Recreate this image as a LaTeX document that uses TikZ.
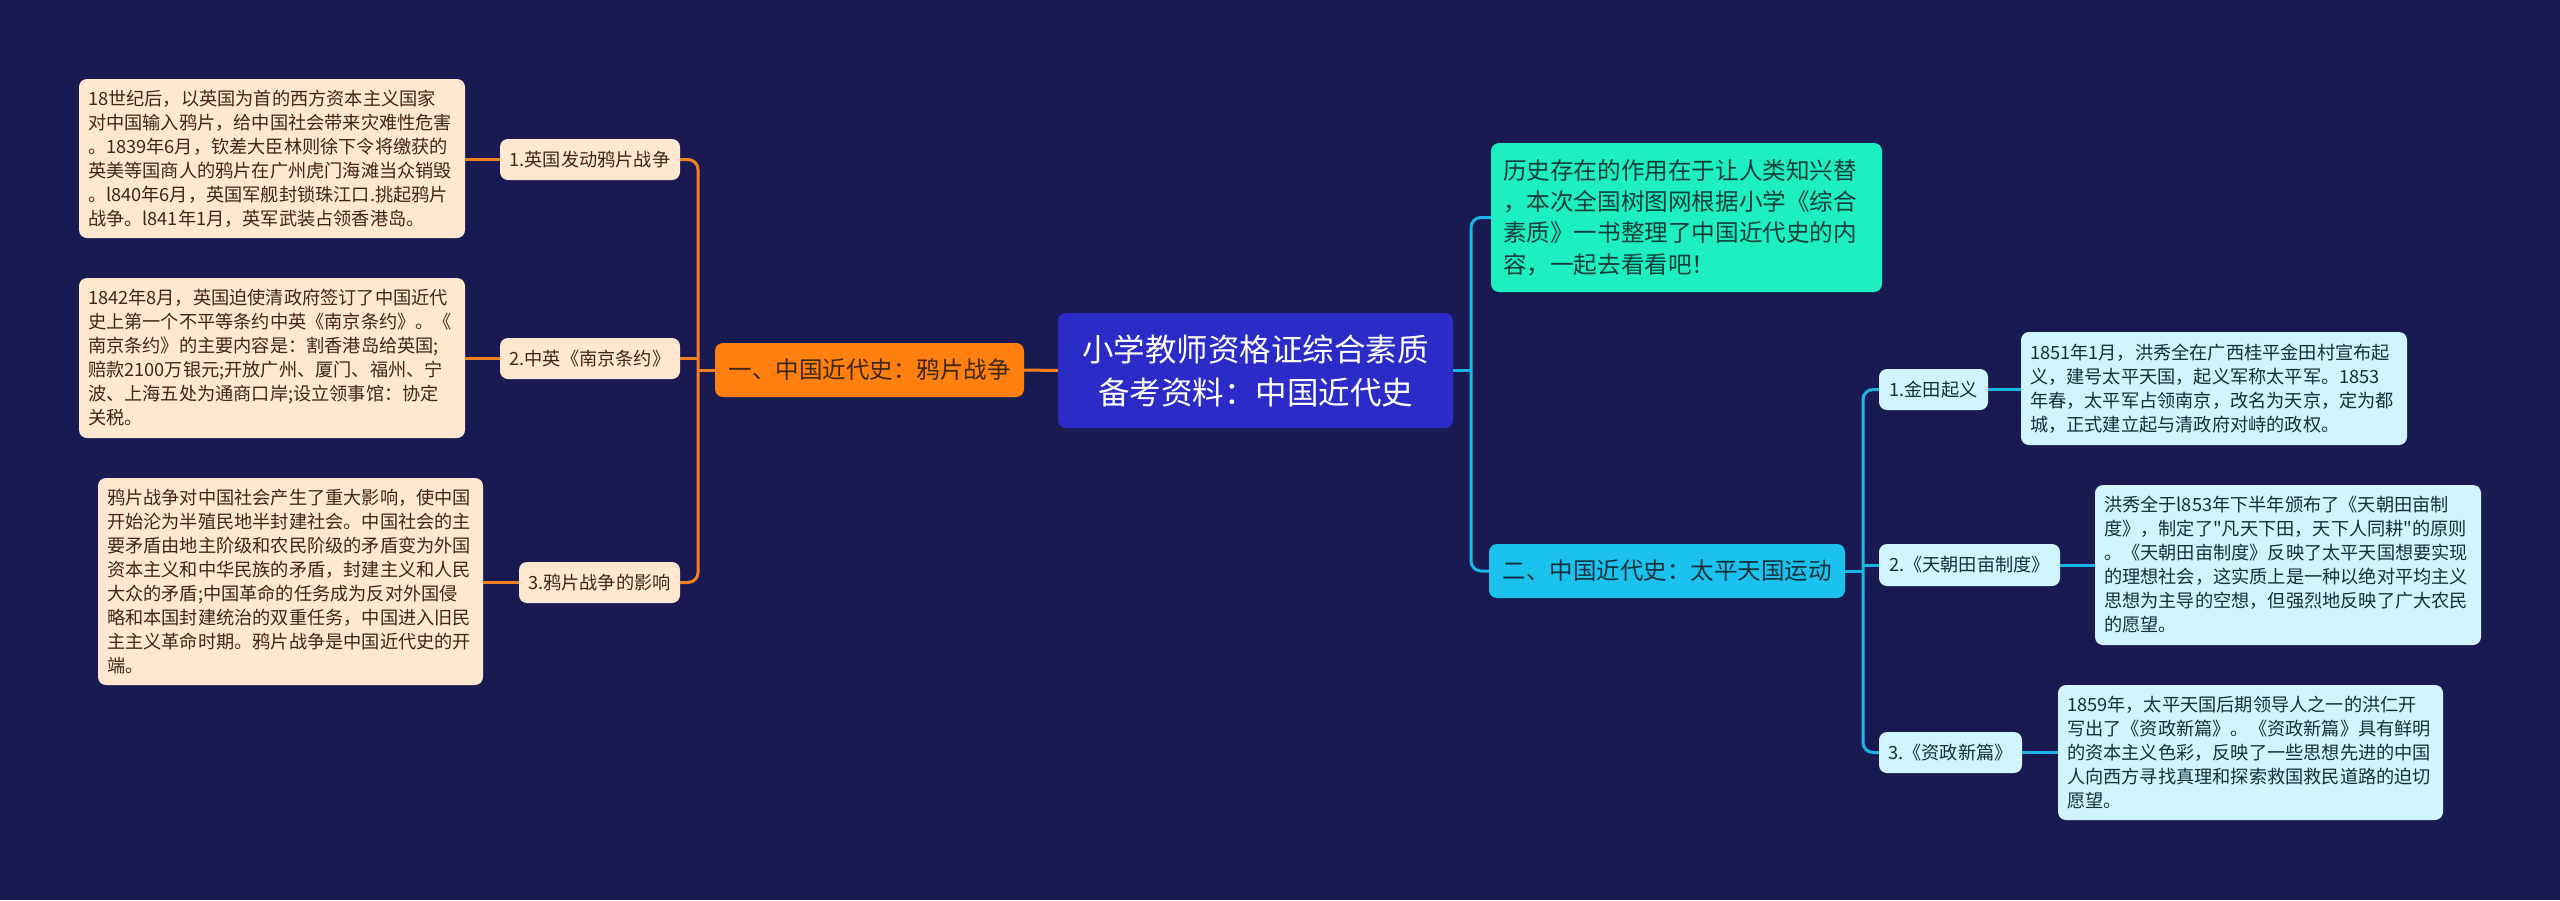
\documentclass[tikz,border=0pt]{standalone}
\usepackage{fontspec}
\setmainfont{Noto Sans CJK SC}
\newfontfamily\plainq{Noto Sans CJK SC}
\newcommand{\sq}{{\plainq"}}
\definecolor{bg}{HTML}{1A1A52}
\definecolor{rootc}{HTML}{2B2BC8}
\definecolor{orangec}{HTML}{FF7F0F}
\definecolor{olinec}{HTML}{F5801E}
\definecolor{peach}{HTML}{FFE8CF}
\definecolor{browntxt}{HTML}{3C2814}
\definecolor{introc}{HTML}{1DEFC0}
\definecolor{introtxt}{HTML}{123E38}
\definecolor{main2c}{HTML}{1CC2EE}
\definecolor{clinec}{HTML}{1AB6E6}
\definecolor{lcyan}{HTML}{D1F5FC}
\definecolor{cyantxt}{HTML}{12303C}
\tikzset{
  leafo/.style={rectangle, rounded corners=8pt, fill=peach, text=browntxt,
    font=\fontsize{18.2}{24}\selectfont, align=left, inner xsep=9pt, inner ysep=0pt},
  leafc/.style={rectangle, rounded corners=8pt, fill=lcyan, text=cyantxt,
    font=\fontsize{18.2}{24}\selectfont, align=left, inner xsep=9pt, inner ysep=0pt},
  subo/.style={rectangle, rounded corners=8pt, fill=peach, text=browntxt,
    font=\fontsize{18.2}{22}\selectfont, align=center, inner sep=2pt},
  subc/.style={rectangle, rounded corners=8pt, fill=lcyan, text=cyantxt,
    font=\fontsize{18.2}{22}\selectfont, align=center, inner sep=2pt},
  oline/.style={draw=olinec, line width=3pt},
  cline/.style={draw=clinec, line width=3pt},
}
\begin{document}
\begin{tikzpicture}[x=1pt,y=-1pt]
\useasboundingbox (0,0) rectangle (2560,900);
\fill[bg] (0,0) rectangle (2560,900);

% root
\node[rectangle, rounded corners=8pt, fill=rootc, text=white, align=center,
  font=\fontsize{31.5}{43}\selectfont, minimum width=395pt, minimum height=115pt, inner sep=2pt]
  (root) at (1255.5,370.5) {小学教师资格证综合素质\\备考资料：中国近代史};

% left main
\node[rectangle, rounded corners=8pt, fill=orangec, text=browntxt, align=center,
  font=\fontsize{23.5}{28}\selectfont, minimum width=309pt, minimum height=54pt, inner sep=2pt]
  (om) at (869.5,370) {一、中国近代史：鸦片战争};

% left subs
\node[subo, minimum width=180pt, minimum height=41pt] (s1) at (590,159.5) {1.英国发动鸦片战争};
\node[subo, minimum width=180pt, minimum height=41pt] (s2) at (590,358.5) {2.中英《南京条约》};
\node[subo, minimum width=161pt, minimum height=41pt] (s3) at (599.5,582.5) {3.鸦片战争的影响};

% left leaves
\node[leafo, text width=368pt, minimum height=159pt] (l1) at (272,158.5) {18世纪后，以英国为首的西方资本主义国家\\对中国输入鸦片，给中国社会带来灾难性危害\\。1839年6月，钦差大臣林则徐下令将缴获的\\英美等国商人的鸦片在广州虎门海滩当众销毁\\。l840年6月，英国军舰封锁珠江口.挑起鸦片\\战争。l841年1月，英军武装占领香港岛。};
\node[leafo, text width=368pt, minimum height=160pt] (l2) at (272,358) {1842年8月，英国迫使清政府签订了中国近代\\史上第一个不平等条约中英《南京条约》。《\\南京条约》的主要内容是：割香港岛给英国;\\赔款2100万银元;开放广州、厦门、福州、宁\\波、上海五处为通商口岸;设立领事馆：协定\\关税。};
\node[leafo, text width=367pt, minimum height=207pt] (l3) at (290.5,581.5) {鸦片战争对中国社会产生了重大影响，使中国\\开始沦为半殖民地半封建社会。中国社会的主\\要矛盾由地主阶级和农民阶级的矛盾变为外国\\资本主义和中华民族的矛盾，封建主义和人民\\大众的矛盾;中国革命的任务成为反对外国侵\\略和本国封建统治的双重任务，中国进入旧民\\主主义革命时期。鸦片战争是中国近代史的开\\端。};

% right intro
\node[rectangle, rounded corners=8pt, fill=introc, text=introtxt, align=left,
  font=\fontsize{23.6}{31.3}\selectfont, text width=367pt, minimum height=149pt, inner xsep=12pt, inner ysep=0pt]
  (intro) at (1686.5,217.5) {历史存在的作用在于让人类知兴替\\，本次全国树图网根据小学《综合\\素质》一书整理了中国近代史的内\\容，一起去看看吧！};

% right main
\node[rectangle, rounded corners=8pt, fill=main2c, text=cyantxt, align=center,
  font=\fontsize{23.5}{28}\selectfont, minimum width=356pt, minimum height=54pt, inner sep=2pt]
  (cm) at (1667,571) {二、中国近代史：太平天国运动};

% right subs
\node[subc, minimum width=109pt, minimum height=41pt] (r1) at (1933.5,389.5) {1.金田起义};
\node[subc, minimum width=181pt, minimum height=42pt] (r2) at (1969.5,565) {2.《天朝田亩制度》};
\node[subc, minimum width=143pt, minimum height=41pt] (r3) at (1950.5,752.5) {3.《资政新篇》};

% right leaves
\node[leafc, text width=368pt, minimum height=113pt] (rl1) at (2214,388.5) {1851年1月，洪秀全在广西桂平金田村宣布起\\义，建号太平天国，起义军称太平军。1853\\年春，太平军占领南京，改名为天京，定为都\\城，正式建立起与清政府对峙的政权。};
\node[leafc, text width=368pt, minimum height=160pt] (rl2) at (2288,565) {洪秀全于l853年下半年颁布了《天朝田亩制\\度》，制定了\sq 凡天下田，天下人同耕\sq 的原则\\。《天朝田亩制度》反映了太平天国想要实现\\的理想社会，这实质上是一种以绝对平均主义\\思想为主导的空想，但强烈地反映了广大农民\\的愿望。};
\node[leafc, text width=367pt, minimum height=135pt] (rl3) at (2250.5,752.5) {1859年，太平天国后期领导人之一的洪仁开\\写出了《资政新篇》。《资政新篇》具有鲜明\\的资本主义色彩，反映了一些思想先进的中国\\人向西方寻找真理和探索救国救民道路的迫切\\愿望。};

% trunk coordinates
\coordinate (lt) at (698,370);
\coordinate (rt) at (1471,370.5);
\coordinate (rt2) at (1863,571);

% connectors
\draw[oline] (om.east) -- (root.west);
\draw[oline] (om.west) -- (lt);
\draw[oline, rounded corners=10pt] (s1.east) -- (s1.east -| lt) -- (s3.east -| lt) -- (s3.east);
\draw[oline] (s2.east) -- (s2.east -| lt);
\draw[oline] (s1.west) -- (l1.east |- s1.west);
\draw[oline] (s2.west) -- (l2.east |- s2.west);
\draw[oline] (s3.west) -- (l3.east |- s3.west);

\draw[cline] (root.east) -- (rt);
\draw[cline, rounded corners=10pt] (intro.west) -- (intro.west -| rt) -- (cm.west -| rt) -- (cm.west);
\draw[cline] (cm.east) -- (rt2);
\draw[cline, rounded corners=10pt] (r1.west) -- (r1.west -| rt2) -- (r3.west -| rt2) -- (r3.west);
\draw[cline] (r2.west) -- (r2.west -| rt2);
\draw[cline] (r1.east) -- (rl1.west |- r1.east);
\draw[cline] (r2.east) -- (rl2.west |- r2.east);
\draw[cline] (r3.east) -- (rl3.west |- r3.east);
\end{tikzpicture}
\end{document}
